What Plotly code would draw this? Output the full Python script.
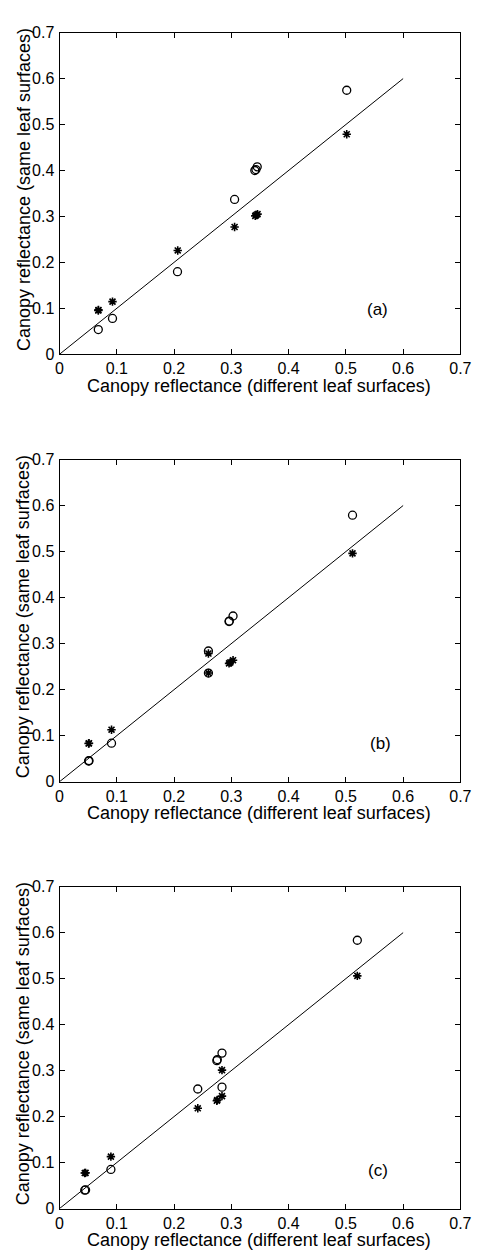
import plotly.graph_objects as go

# Panel (a)
a_circ_x = [0.0677, 0.0925, 0.206, 0.3057, 0.341, 0.343, 0.3452, 0.5015]
a_circ_y = [0.0537, 0.078, 0.1797, 0.337, 0.400, 0.402, 0.408, 0.5747]
a_star_x = [0.0677, 0.068, 0.0925, 0.2064, 0.3057, 0.3418, 0.3435, 0.3458, 0.5015]
a_star_y = [0.0952, 0.0965, 0.1145, 0.226, 0.277, 0.3013, 0.303, 0.305, 0.4788]

# Panel (b)
b_circ_x = [0.0508, 0.0515, 0.0908, 0.26, 0.26, 0.296, 0.2965, 0.303, 0.5116]
b_circ_y = [0.045, 0.0455, 0.0836, 0.284, 0.236, 0.348, 0.349, 0.36, 0.579]
b_star_x = [0.0508, 0.0515, 0.0908, 0.26, 0.26, 0.296, 0.298, 0.303, 0.5116]
b_star_y = [0.0829, 0.0835, 0.113, 0.2786, 0.236, 0.257, 0.259, 0.264, 0.496]

# Panel (c)
c_circ_x = [0.044, 0.0455, 0.0897, 0.2414, 0.2747, 0.2755, 0.2837, 0.2837, 0.520]
c_circ_y = [0.040, 0.0405, 0.085, 0.260, 0.3215, 0.324, 0.338, 0.264, 0.5835]
c_star_x = [0.044, 0.0455, 0.0897, 0.2414, 0.2747, 0.2755, 0.2837, 0.2837, 0.520]
c_star_y = [0.0772, 0.0775, 0.113, 0.218, 0.2345, 0.236, 0.301, 0.2445, 0.506]

line_x = [0, 0.6]
line_y = [0, 0.6]

tick_vals = [0, 0.1, 0.2, 0.3, 0.4, 0.5, 0.6, 0.7]
tick_text = ["0", "0.1", "0.2", "0.3", "0.4", "0.5", "0.6", "0.7"]

panel_labels = ["(a)", "(b)", "(c)"]
label_pos = [(0.5556, 0.0966), (0.560, 0.083), (0.5556, 0.083)]

x_title = "Canopy reflectance (different leaf surfaces)"
y_title = "Canopy reflectance (same leaf surfaces)"

W, H = 484, 1258
plot_left, plot_right = 57.3, 471.0
panel_tops = [25.0, 457.7, 890.7]
panel_bottoms = [351.0, 784.3, 1217.0]

FONT = "Liberation Sans, Arial, Helvetica, sans-serif"
TICK_SIZE = 16
TITLE_SIZE = 18
LABEL_SIZE = 17

fig = go.Figure()
panels = [
    (a_circ_x, a_circ_y, a_star_x, a_star_y),
    (b_circ_x, b_circ_y, b_star_x, b_star_y),
    (c_circ_x, c_circ_y, c_star_x, c_star_y),
]

layout = dict(
    width=W, height=H,
    margin=dict(l=0, r=0, t=0, b=0),
    paper_bgcolor="white", plot_bgcolor="white",
    showlegend=False,
    font=dict(family=FONT, size=16, color="black"),
    annotations=[],
)

for i, (cx, cy, sx, sy) in enumerate(panels):
    suffix = "" if i == 0 else str(i + 1)
    xa = "x" + suffix
    ya = "y" + suffix
    fig.add_trace(go.Scatter(x=line_x, y=line_y, mode="lines",
                             line=dict(color="black", width=1),
                             xaxis=xa, yaxis=ya, hoverinfo="skip"))
    fig.add_trace(go.Scatter(x=cx, y=cy, mode="markers",
                             marker=dict(symbol="circle-open", size=8,
                                         color="black", line=dict(width=1.3, color="black")),
                             xaxis=xa, yaxis=ya))
    fig.add_trace(go.Scatter(x=sx, y=sy, mode="markers",
                             marker=dict(symbol="asterisk-open", size=7,
                                         color="black", line=dict(width=1.6, color="black")),
                             xaxis=xa, yaxis=ya))
    ydom = [1 - panel_bottoms[i] / H, 1 - panel_tops[i] / H]
    xdom = [plot_left / W, plot_right / W]
    common = dict(range=[0, 0.7], tickvals=tick_vals, ticktext=tick_text,
                  ticks="inside", ticklen=5, tickwidth=1, tickcolor="black",
                  showline=True, linecolor="black", linewidth=1, mirror="allticks",
                  showgrid=False, zeroline=False, fixedrange=True,
                  tickfont=dict(family=FONT, size=TICK_SIZE, color="black"))
    layout["xaxis" + suffix] = dict(domain=xdom, anchor=ya, ticklabelstandoff=0, **common)
    layout["yaxis" + suffix] = dict(domain=ydom, anchor=xa, ticklabelstandoff=1, **common)

    lx, ly = label_pos[i]
    layout["annotations"].append(dict(text=panel_labels[i], x=lx, y=ly, xref=xa, yref=ya,
                                      showarrow=False, font=dict(family=FONT, size=LABEL_SIZE, color="black"),
                                      xanchor="center", yanchor="middle"))
    # x title
    layout["annotations"].append(dict(text=x_title, x=(plot_left + plot_right) / 2 / W - 0.003,
                                      y=1 - (panel_bottoms[i] + 32) / H, xref="paper", yref="paper",
                                      showarrow=False, xanchor="center", yanchor="middle",
                                      font=dict(family=FONT, size=TITLE_SIZE, color="black")))
    # y title
    layout["annotations"].append(dict(text=y_title, x=20 / W,
                                      y=1 - (panel_tops[i] + panel_bottoms[i]) / 2 / H + 0.003,
                                      xref="paper", yref="paper", textangle=-90,
                                      showarrow=False, xanchor="center", yanchor="middle",
                                      font=dict(family=FONT, size=TITLE_SIZE, color="black")))

fig.update_layout(**layout)
fig.write_html("out.html")
